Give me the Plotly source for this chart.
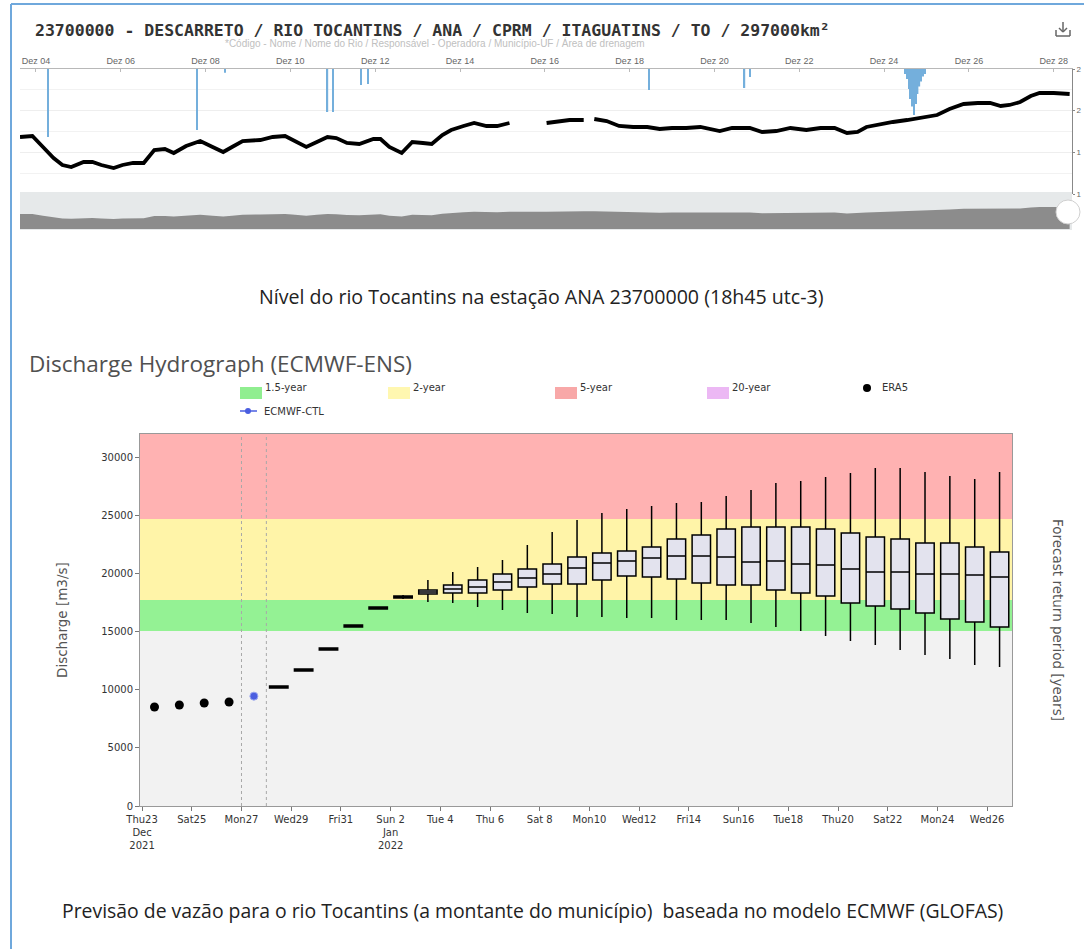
import plotly.graph_objects as go

W, H = 1084, 949


def px(x):
    return x / W


def py(y):
    return 1 - y / H


# ---------------- top chart (river level, ANA station) ----------------
level_time = [
    "2021-12-03 15:00", "2021-12-03 22:00", "2021-12-04 04:00", "2021-12-04 10:00", "2021-12-04 15:00",
    "2021-12-04 20:00", "2021-12-05 03:00", "2021-12-05 08:00", "2021-12-05 13:00", "2021-12-05 20:00",
    "2021-12-06 01:00", "2021-12-06 07:00", "2021-12-06 13:00", "2021-12-06 19:00", "2021-12-07 01:00",
    "2021-12-07 06:00", "2021-12-07 13:00", "2021-12-07 21:00", "2021-12-08 04:00", "2021-12-08 10:00",
    "2021-12-08 15:00", "2021-12-08 21:00", "2021-12-09 07:00", "2021-12-09 14:00", "2021-12-09 21:00",
    "2021-12-10 01:00", "2021-12-10 09:00", "2021-12-10 15:00", "2021-12-10 21:00", "2021-12-11 02:00",
    "2021-12-11 08:00", "2021-12-11 15:00", "2021-12-11 23:00", "2021-12-12 03:00", "2021-12-12 08:00",
    "2021-12-12 15:00", "2021-12-12 21:00", "2021-12-13 03:00", "2021-12-13 08:00", "2021-12-13 14:00",
    "2021-12-13 19:00", "2021-12-14 02:00", "2021-12-14 08:00", "2021-12-14 15:00", "2021-12-14 21:00",
    "2021-12-15 04:00", "2021-12-15 14:00",
    "2021-12-16 01:00", "2021-12-16 08:00", "2021-12-16 14:00", "2021-12-16 22:00", "2021-12-17 01:00",
    "2021-12-17 04:00", "2021-12-17 11:00", "2021-12-17 18:00", "2021-12-18 02:00", "2021-12-18 10:00",
    "2021-12-18 17:00", "2021-12-19 00:00", "2021-12-19 08:00", "2021-12-19 16:00", "2021-12-19 23:00",
    "2021-12-20 03:00", "2021-12-20 10:00", "2021-12-20 20:00", "2021-12-21 03:00", "2021-12-21 11:00",
    "2021-12-21 19:00", "2021-12-22 04:00", "2021-12-22 12:00", "2021-12-22 20:00", "2021-12-23 03:00",
    "2021-12-23 09:00", "2021-12-23 14:00", "2021-12-23 22:00", "2021-12-24 05:00", "2021-12-24 13:00",
    "2021-12-24 20:00", "2021-12-25 06:00", "2021-12-25 13:00", "2021-12-25 21:00", "2021-12-26 05:00",
    "2021-12-26 12:00", "2021-12-26 18:00", "2021-12-26 23:00", "2021-12-27 05:00", "2021-12-27 11:00",
    "2021-12-27 16:00", "2021-12-28 00:00", "2021-12-28 09:00",
]
level_m = [
    1.684, 1.696, 1.564, 1.432, 1.348,
    1.324, 1.384, 1.384, 1.348, 1.312,
    1.348, 1.372, 1.372, 1.528, 1.540,
    1.492, 1.576, 1.636, 1.564, 1.504,
    1.564, 1.636, 1.648, 1.684, 1.696,
    1.648, 1.564, 1.624, 1.684, 1.672,
    1.612, 1.600, 1.660, 1.660, 1.564,
    1.492, 1.624, 1.612, 1.600, 1.708,
    1.768, 1.816, 1.852, 1.816, 1.816,
    1.852, None,
    1.852, 1.876, 1.888, 1.888, None,
    1.900, 1.876, 1.816, 1.804, 1.804,
    1.780, 1.792, 1.792, 1.804, 1.768,
    1.756, 1.792, 1.792, 1.744, 1.756,
    1.792, 1.768, 1.792, 1.792, 1.732,
    1.744, 1.804, 1.840, 1.864, 1.888,
    1.912, 1.948, 2.020, 2.080, 2.092,
    2.092, 2.056, 2.068, 2.104, 2.176,
    2.212, 2.212, 2.200,
]

rain_time = [
    "2021-12-04 07:00", "2021-12-07 19:00", "2021-12-08 11:00", "2021-12-10 21:00", "2021-12-11 00:00",
    "2021-12-11 16:00", "2021-12-11 20:00", "2021-12-18 11:00", "2021-12-20 17:00", "2021-12-20 20:00",
    "2021-12-24 12:00", "2021-12-24 13:00", "2021-12-24 14:00", "2021-12-24 15:00", "2021-12-24 16:00",
    "2021-12-24 17:00", "2021-12-24 18:00", "2021-12-24 19:00", "2021-12-24 20:00", "2021-12-24 21:00",
    "2021-12-24 22:00", "2021-12-24 23:00",
]
rain_mm = [
    27.2, 24.4, 1.5, 17.2, 17.2,
    6.4, 6.0, 8.4, 7.6, 3.2,
    2.0, 4.0, 8.0, 12.0, 15.0,
    18.4, 14.0, 10.0, 7.0, 5.0,
    3.0, 2.0,
]

top_tick_dates = ["2021-12-04", "2021-12-06", "2021-12-08", "2021-12-10", "2021-12-12", "2021-12-14",
                  "2021-12-16", "2021-12-18", "2021-12-20", "2021-12-22", "2021-12-24", "2021-12-26",
                  "2021-12-28"]
top_tick_text = ["Dez 04", "Dez 06", "Dez 08", "Dez 10", "Dez 12", "Dez 14", "Dez 16", "Dez 18",
                 "Dez 20", "Dez 22", "Dez 24", "Dez 26", "Dez 28"]
level_ticks = [1.0, 1.5, 2.0, 2.5]
level_tick_text = ["1", "1", "2", "2"]

# ---------------- lower chart (GloFAS discharge) ----------------
era5_dates = ["2021-12-23 12:00", "2021-12-24 12:00", "2021-12-25 12:00", "2021-12-26 12:00"]
era5_q = [8520, 8690, 8860, 8950]
ctl_dates = ["2021-12-27 12:00"]
ctl_q = [9450]

ens_dates = [
    "2021-12-28 12:00", "2021-12-29 12:00", "2021-12-30 12:00", "2021-12-31 12:00", "2022-01-01 12:00",
    "2022-01-02 12:00", "2022-01-03 12:00", "2022-01-04 12:00", "2022-01-05 12:00", "2022-01-06 12:00",
    "2022-01-07 12:00", "2022-01-08 12:00", "2022-01-09 12:00", "2022-01-10 12:00", "2022-01-11 12:00",
    "2022-01-12 12:00", "2022-01-13 12:00", "2022-01-14 12:00", "2022-01-15 12:00", "2022-01-16 12:00",
    "2022-01-17 12:00", "2022-01-18 12:00", "2022-01-19 12:00", "2022-01-20 12:00", "2022-01-21 12:00",
    "2022-01-22 12:00", "2022-01-23 12:00", "2022-01-24 12:00", "2022-01-25 12:00", "2022-01-26 12:00",
]
ens_min = [10160, 11620, 13430, 15400, 16950, 17800, 17550, 17460, 17120, 16860,
           16600, 16520, 16260, 16260, 16170, 16170, 16000, 16000, 16000, 15740,
           15400, 15050, 14620, 14190, 13850, 13420, 12990, 12650, 12130, 11960]
ens_q1 = [10160, 11620, 13430, 15400, 16950, 17900, 18240, 18320, 18320, 18580,
          18840, 19100, 19100, 19440, 19790, 19700, 19530, 19180, 19010, 19010,
          18580, 18320, 18060, 17460, 17200, 16950, 16600, 16090, 15830, 15400]
ens_med = [10240, 11700, 13510, 15480, 17030, 17980, 18410, 18670, 18840, 19270,
           19610, 19960, 20470, 20900, 21080, 21330, 21510, 21510, 21420, 20990,
           21080, 20820, 20730, 20390, 20130, 20130, 19960, 19960, 19870, 19700]
ens_q3 = [10320, 11780, 13590, 15560, 17110, 18060, 18580, 19010, 19440, 19960,
          20390, 20820, 21420, 21760, 21940, 22280, 22970, 23310, 23830, 24000,
          24000, 24000, 23830, 23480, 23140, 22970, 22620, 22620, 22280, 21850]
ens_max = [10320, 11780, 13590, 15560, 17110, 18150, 19440, 20130, 20560, 21160,
           22450, 23570, 24600, 25200, 25550, 25810, 26060, 26150, 26670, 27180,
           27780, 27960, 28300, 28650, 29080, 29080, 28730, 28390, 28130, 28730]

rp_thresholds = [15050, 17720, 24690]
rp_labels = ["1.5", "2.0", "5.0"]
band_colors = ["#f2f2f2", "#94f294", "#fff4a8", "#ffb2b2"]

low_tick_dates = ["2021-12-23", "2021-12-25", "2021-12-27", "2021-12-29", "2021-12-31", "2022-01-02",
                  "2022-01-04", "2022-01-06", "2022-01-08", "2022-01-10", "2022-01-12", "2022-01-14",
                  "2022-01-16", "2022-01-18", "2022-01-20", "2022-01-22", "2022-01-24", "2022-01-26"]
low_tick_text = ["Thu23<br>Dec<br>2021", "Sat25", "Mon27", "Wed29", "Fri31", "Sun 2<br>Jan<br>2022",
                 "Tue 4", "Thu 6", "Sat 8", "Mon10", "Wed12", "Fri14", "Sun16", "Tue18", "Thu20",
                 "Sat22", "Mon24", "Wed26"]
discharge_ticks = [0, 5000, 10000, 15000, 20000, 25000, 30000]
forecast_window = ["2021-12-27", "2021-12-28"]

Y_MAX = 32000
DAY_MS = 86400000

fig = go.Figure()

# top: rainfall bars hanging from the top axis
fig.add_trace(go.Bar(x=rain_time, y=rain_mm, xaxis="x2", yaxis="y4", width=3600000 * 0.8,
                     marker=dict(color="#74afdc", line=dict(width=0)), hoverinfo="skip"))
# top: water level line
fig.add_trace(go.Scatter(x=level_time, y=level_m, xaxis="x2", yaxis="y3", mode="lines",
                         line=dict(color="black", width=3.8), connectgaps=False))
# navigator
fig.add_trace(go.Scatter(x=level_time, y=level_m, xaxis="x3", yaxis="y5", mode="lines",
                         fill="tozeroy", fillcolor="#8c8c8c", line=dict(width=0, color="#8c8c8c"),
                         connectgaps=False))

# lower: ensemble boxes
fig.add_trace(go.Box(x=ens_dates, q1=ens_q1, median=ens_med, q3=ens_q3, lowerfence=ens_min,
                     upperfence=ens_max, xaxis="x", yaxis="y", width=0.74 * DAY_MS, whiskerwidth=0,
                     fillcolor="#e3e3ee", line=dict(color="black", width=1.5), boxpoints=False))
fig.add_trace(go.Scatter(x=era5_dates, y=era5_q, mode="markers", xaxis="x", yaxis="y",
                         marker=dict(color="black", size=9)))
fig.add_trace(go.Scatter(x=ctl_dates, y=ctl_q, mode="markers", xaxis="x", yaxis="y",
                         marker=dict(color="#4a5ee0", size=8, line=dict(color="#9aa6f0", width=1))))

shapes = []
# bands
edges = [0] + rp_thresholds + [Y_MAX]
for i, col in enumerate(band_colors):
    shapes.append(dict(type="rect", xref="x domain", yref="y", x0=0, x1=1, y0=edges[i], y1=edges[i + 1],
                       fillcolor=col, line=dict(width=0), layer="below"))
for d in forecast_window:
    shapes.append(dict(type="line", xref="x", yref="y domain", x0=d, x1=d, y0=0, y1=1,
                       line=dict(color="#a8a8a8", width=1, dash="dot"), layer="below"))
# navigator background
shapes.append(dict(type="rect", xref="paper", yref="paper", x0=px(20), x1=px(1072), y0=py(230), y1=py(192),
                   fillcolor="#e6e9ea", line=dict(width=0), layer="below"))
# navigator handle
shapes.append(dict(type="circle", xref="paper", yref="paper", x0=px(1056), x1=px(1080), y0=py(224), y1=py(200),
                   fillcolor="white", line=dict(color="#d0d0d0", width=1)))
# blue frame
shapes.append(dict(type="line", xref="paper", yref="paper", x0=px(11), x1=px(11), y0=py(4), y1=0,
                   line=dict(color="#6fa8dc", width=2)))
shapes.append(dict(type="line", xref="paper", yref="paper", x0=px(11), x1=1, y0=py(4), y1=py(4),
                   line=dict(color="#6fa8dc", width=2)))
# download icon
for (x0, y0, x1, y1) in [(1063, 22, 1063, 32), (1059, 28, 1063, 32), (1067, 28, 1063, 32),
                         (1056, 30, 1056, 36), (1056, 36, 1070, 36), (1070, 36, 1070, 30)]:
    shapes.append(dict(type="line", xref="paper", yref="paper", x0=px(x0), x1=px(x1), y0=py(y0), y1=py(y1),
                       line=dict(color="#666666", width=1.5)))

LEG_FONT = dict(family="DejaVu Sans", size=10, color="#333")


def note(x, y, text, font, xanchor="center", angle=0):
    return dict(x=px(x), y=py(y), xref="paper", yref="paper", text=text, showarrow=False,
                xanchor=xanchor, yanchor="middle", textangle=angle, font=font)


# legend swatches
legend_items = [("1.5-year", "#90ee90", 240), ("2-year", "#fff7b0", 388), ("5-year", "#f8a8a8", 555),
                ("20-year", "#ecb8f4", 707)]
annotations = []
for name, col, x0 in legend_items:
    shapes.append(dict(type="rect", xref="paper", yref="paper", x0=px(x0), x1=px(x0 + 22), y0=py(399),
                       y1=py(387), fillcolor=col, line=dict(width=0)))
    annotations.append(note(x0 + 23, 387, name, LEG_FONT, xanchor="left"))
shapes.append(dict(type="circle", xref="paper", yref="paper", x0=px(863), x1=px(871), y0=py(392), y1=py(384),
                   fillcolor="black", line=dict(width=0)))
annotations.append(note(880, 387, "ERA5", LEG_FONT, xanchor="left"))
shapes.append(dict(type="line", xref="paper", yref="paper", x0=px(240), x1=px(257), y0=py(411), y1=py(411),
                   line=dict(color="#4a5ee0", width=1.5)))
shapes.append(dict(type="circle", xref="paper", yref="paper", x0=px(245), x1=px(251), y0=py(414), y1=py(408),
                   fillcolor="#4a5ee0", line=dict(width=0)))
annotations.append(note(262, 411, "ECMWF-CTL", LEG_FONT, xanchor="left"))

# texts
annotations += [
    note(432, 30, "<b>23700000 - DESCARRETO / RIO TOCANTINS / ANA / CPRM / ITAGUATINS / TO / 297000km²</b>",
         dict(family="DejaVu Sans Mono", size=16.5, color="#333")),
    note(435, 43, "*Código - Nome / Nome do Rio / Responsável - Operadora / Município-UF / Área de drenagem",
         dict(family="Liberation Sans", size=10, color="#c0c0c0")),
    note(541, 297, "Nível do rio Tocantins na estação ANA 23700000 (18h45 utc-3)",
         dict(family="Open Sans", size=19.6, color="#222")),
    note(27, 363, "Discharge Hydrograph (ECMWF-ENS)", dict(family="Open Sans", size=22.5, color="#505050"),
         xanchor="left"),
    note(62, 620, "Discharge [m3/s]", dict(family="DejaVu Sans", size=13.5, color="#555"), angle=-90),
    note(1058, 620, "Forecast return period [years]", dict(family="DejaVu Sans", size=13.5, color="#555"),
         angle=90),
    note(532, 910, "Previsão de vazão para o rio Tocantins (a montante do município)  baseada no modelo ECMWF (GLOFAS)",
         dict(family="Open Sans", size=19.4, color="#222")),
]

tick_font = dict(family="DejaVu Sans", size=10, color="#333")
top_range = ["2021-12-03 15:00", "2021-12-28 10:20"]

fig.update_layout(
    width=W, height=H, autosize=False, margin=dict(l=0, r=0, t=0, b=0, pad=0),
    paper_bgcolor="white", plot_bgcolor="rgba(0,0,0,0)", showlegend=False,
    shapes=shapes, annotations=annotations,
    xaxis=dict(domain=[px(140), px(1012)], anchor="y", type="date", automargin=False,
               range=["2021-12-22 22:00", "2022-01-27 00:00"], tickvals=low_tick_dates, ticktext=low_tick_text,
               ticks="outside", ticklen=4, tickcolor="#777", showline=True, linecolor="#999", mirror=True,
               showgrid=False, zeroline=False, tickfont=tick_font),
    yaxis=dict(domain=[py(806), py(434)], anchor="x", range=[0, Y_MAX], automargin=False,
               tickvals=discharge_ticks, tickformat="d", ticks="outside", ticklen=4,
               tickcolor="#777", showline=True, linecolor="#999", mirror=True, showgrid=False,
               zeroline=False, tickfont=tick_font),
    yaxis2=dict(overlaying="y", anchor="x", side="right", range=[0, Y_MAX], tickvals=rp_thresholds,
                ticktext=rp_labels, ticks="outside", ticklen=4, tickcolor="#777", showline=False,
                automargin=False, showgrid=False, zeroline=False, tickfont=tick_font),
    xaxis2=dict(domain=[px(20), px(1072)], anchor="y3", type="date", side="top", range=top_range,
                tickvals=top_tick_dates, ticktext=top_tick_text, ticks="inside", ticklen=3,
                tickcolor="#bbb", showline=True, linecolor="#b8b8b8", showgrid=False, zeroline=False,
                automargin=False, tickfont=dict(family="Liberation Sans", size=9, color="#666")),
    yaxis3=dict(domain=[py(194), py(69)], anchor="x2", side="right", range=[1.0, 2.5],
                tickvals=level_ticks, ticktext=level_tick_text, ticks="outside", ticklen=2,
                tickcolor="#888", showline=True, linecolor="#888", showgrid=True, gridcolor="#eeeeee",
                minor=dict(dtick=0.25, showgrid=True, gridcolor="#f2f2f2"), zeroline=False,
                automargin=False, ticklabelstandoff=0,
                tickfont=dict(family="Liberation Sans", size=8, color="#666")),
    yaxis4=dict(overlaying="y3", anchor="x2", range=[50, 0], visible=False, automargin=False),
    xaxis3=dict(domain=[px(20), px(1072)], anchor="y5", type="date", range=top_range, visible=False,
                automargin=False),
    yaxis5=dict(domain=[py(229), py(193)], anchor="x3", range=[0.562, 3.262], visible=False,
                automargin=False),
)

fig.write_html("out.html", config={"displayModeBar": False},
               post_script="document.body.style.margin='0px';")
